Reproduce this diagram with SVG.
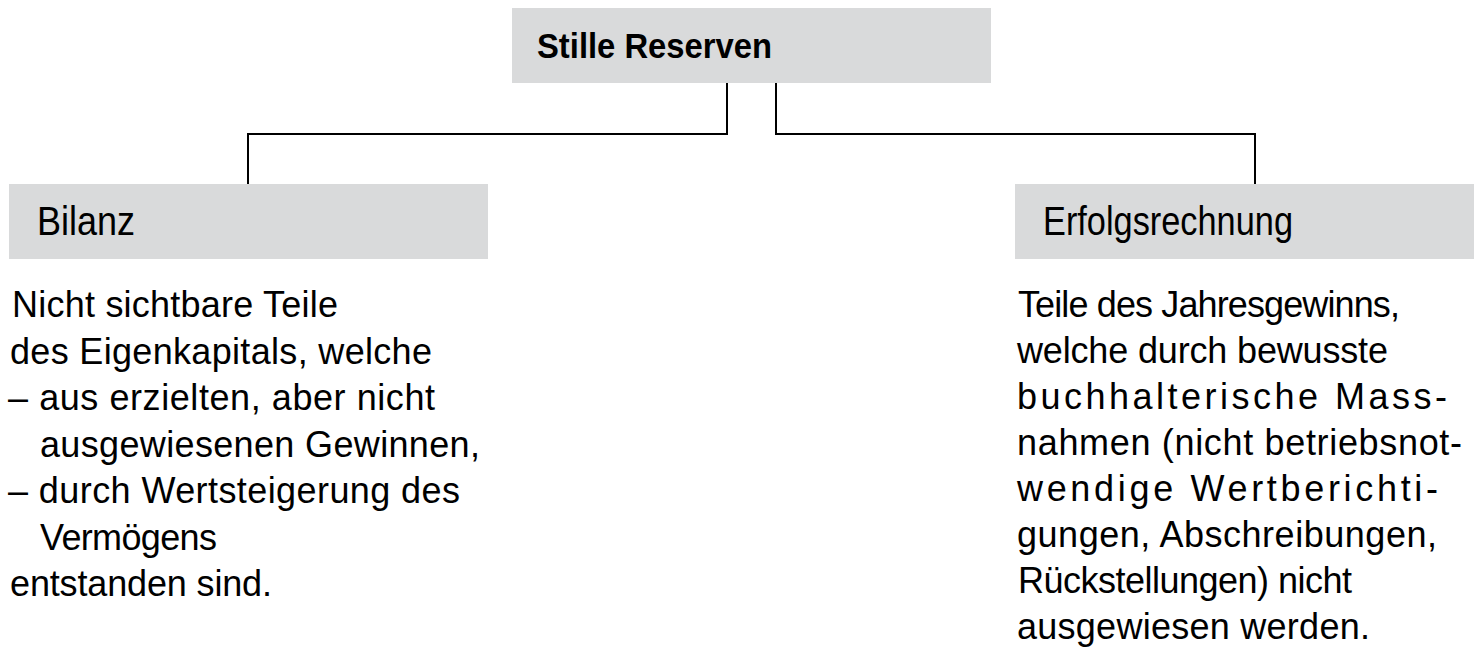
<svg xmlns="http://www.w3.org/2000/svg" width="1474" height="653" viewBox="0 0 1474 653">
  <style>
    .box { fill: #d9dadb; }
    .conn { fill: none; stroke: #000; stroke-width: 2; }
    .title { font-family: "Liberation Sans", Arial, sans-serif; font-weight: bold; font-size: 35px; fill: #000; }
    .head { font-family: "Liberation Sans", Arial, sans-serif; font-size: 41px; fill: #000; }
    .body { font-family: "Liberation Sans", Arial, sans-serif; font-size: 36px; fill: #000; }
  </style>
  <rect width="1474" height="653" fill="#fff"/>
  <g id="connectors">
    <polyline class="conn" points="727,83 727,134 248,134 248,184"/>
    <polyline class="conn" points="776,83 776,134 1255,134 1255,184"/>
  </g>
  <g id="node-stille-reserven">
    <rect class="box" x="512" y="8" width="479" height="75"/>
    <text class="title" x="537" y="58" textLength="235" lengthAdjust="spacingAndGlyphs">Stille Reserven</text>
  </g>
  <g id="node-bilanz">
    <rect class="box" x="9" y="184" width="479" height="75"/>
    <text class="head" x="37" y="235" textLength="98" lengthAdjust="spacingAndGlyphs">Bilanz</text>
  </g>
  <g id="text-bilanz">
    <text class="body" x="12" y="317" textLength="326" lengthAdjust="spacing">Nicht sichtbare Teile</text>
    <text class="body" x="10" y="363.5" textLength="422" lengthAdjust="spacing">des Eigenkapitals, welche</text>
    <text class="body" x="8" y="410" textLength="427" lengthAdjust="spacing">– aus erzielten, aber nicht</text>
    <text class="body" x="40" y="456.5" textLength="440" lengthAdjust="spacing">ausgewiesenen Gewinnen,</text>
    <text class="body" x="8" y="503" textLength="452" lengthAdjust="spacing">– durch Wertsteigerung des</text>
    <text class="body" x="40" y="549.5" textLength="177" lengthAdjust="spacing">Vermögens</text>
    <text class="body" x="10" y="596" textLength="262" lengthAdjust="spacing">entstanden sind.</text>
  </g>
  <g id="node-erfolgsrechnung">
    <rect class="box" x="1015" y="184" width="459" height="75"/>
    <text class="head" x="1043" y="235" textLength="250" lengthAdjust="spacingAndGlyphs">Erfolgsrechnung</text>
  </g>
  <g id="text-erfolgsrechnung">
    <text class="body" x="1018" y="317" textLength="382" lengthAdjust="spacing">Teile des Jahresgewinns,</text>
    <text class="body" x="1017" y="363" textLength="371" lengthAdjust="spacing">welche durch bewusste</text>
    <text class="body" x="1017" y="409" textLength="430" lengthAdjust="spacing">buchhalterische Mass-</text>
    <text class="body" x="1017" y="455" textLength="445" lengthAdjust="spacing">nahmen (nicht betriebsnot-</text>
    <text class="body" x="1017" y="501" textLength="421" lengthAdjust="spacing">wendige Wertberichti-</text>
    <text class="body" x="1017" y="547" textLength="420" lengthAdjust="spacing">gungen, Abschreibungen,</text>
    <text class="body" x="1018" y="593" textLength="334" lengthAdjust="spacing">Rückstellungen) nicht</text>
    <text class="body" x="1017" y="639" textLength="353" lengthAdjust="spacing">ausgewiesen werden.</text>
  </g>
</svg>
